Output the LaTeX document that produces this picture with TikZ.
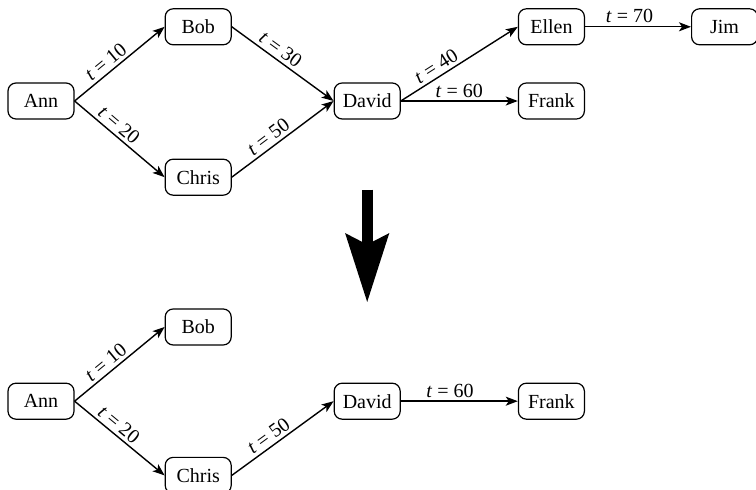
\documentclass[tikz,border=0pt]{standalone}
\usepackage{fontspec}
\setmainfont{Liberation Serif}
\usetikzlibrary{positioning,arrows.meta}

\begin{document}
\begin{tikzpicture}[
                node distance=1cm,
                member/.style={draw,rounded corners=4pt,line width=0.6pt,
                    minimum width=33pt,minimum height=18pt,inner sep=2pt},
                link/.style={line width=0.7pt,-{Stealth[length=6pt,width=4.5pt,inset=1.5pt]}},
                lbl/.style={sloped,above,pos=0.42,inner sep=1.5pt}
            ]
                \useasboundingbox (-20.5pt,-194.5pt) rectangle (357.5pt,50.5pt);

                % full tree
                \node[member] (ann)                                  {Ann};
                \node[member] (bob)   [above right=18.5pt and 45pt of ann] {Bob};
                \node[member] (chris) [below right=19.5pt and 45pt of ann] {Chris};
                \node[member] (david) [right=129.5pt of ann]         {David};
                \node[member] (frank) [right=58.5pt of david]        {Frank};
                \node[member] (ellen) [above=18.5pt of frank]        {Ellen};
                \node[member] (jim)   [right=53pt of ellen]          {Jim};
                \draw[link] (ann.east)   -- node[lbl] {\textit{t} = 10} (bob.west);
                \draw[link] (ann.east)   -- node[lbl] {\textit{t} = 20} (chris.west);
                \draw[link] (bob.east)   -- node[lbl] {\textit{t} = 30} (david.west);
                \draw[link] (chris.east) -- node[lbl] {\textit{t} = 50} (david.west);
                \draw[link] (david.east) -- node[lbl,pos=0.35] {\textit{t} = 40} (ellen.west);
                \draw[link] (david.east) -- node[lbl,pos=0.5] {\textit{t} = 60} (frank.west);
                \draw[link] (ellen.east) -- node[lbl] {\textit{t} = 70} (jim.west);

                % big arrow between the two
                \coordinate[below=35pt of david.south] (droptop);
                \coordinate[below=91.5pt of david.south] (droptip);
                \draw[line width=5.5pt,-{Stealth[length=34pt,width=21pt,inset=5pt]}] (droptop) -- (droptip);

                % pruned tree
                \node[member] (ann2)   [below=131.5pt of ann]          {Ann};
                \node[member] (bob2)   [above right=18.5pt and 45pt of ann2] {Bob};
                \node[member] (chris2) [below right=18.5pt and 45pt of ann2] {Chris};
                \node[member] (david2) [right=129.5pt of ann2]         {David};
                \node[member] (frank2) [right=58.5pt of david2]        {Frank};
                \draw[link] (ann2.east)   -- node[lbl] {\textit{t} = 10} (bob2.west);
                \draw[link] (ann2.east)   -- node[lbl] {\textit{t} = 20} (chris2.west);
                \draw[link] (chris2.east) -- node[lbl] {\textit{t} = 50} (david2.west);
                \draw[link] (david2.east) -- node[lbl] {\textit{t} = 60} (frank2.west);
            \end{tikzpicture}
\end{document}
